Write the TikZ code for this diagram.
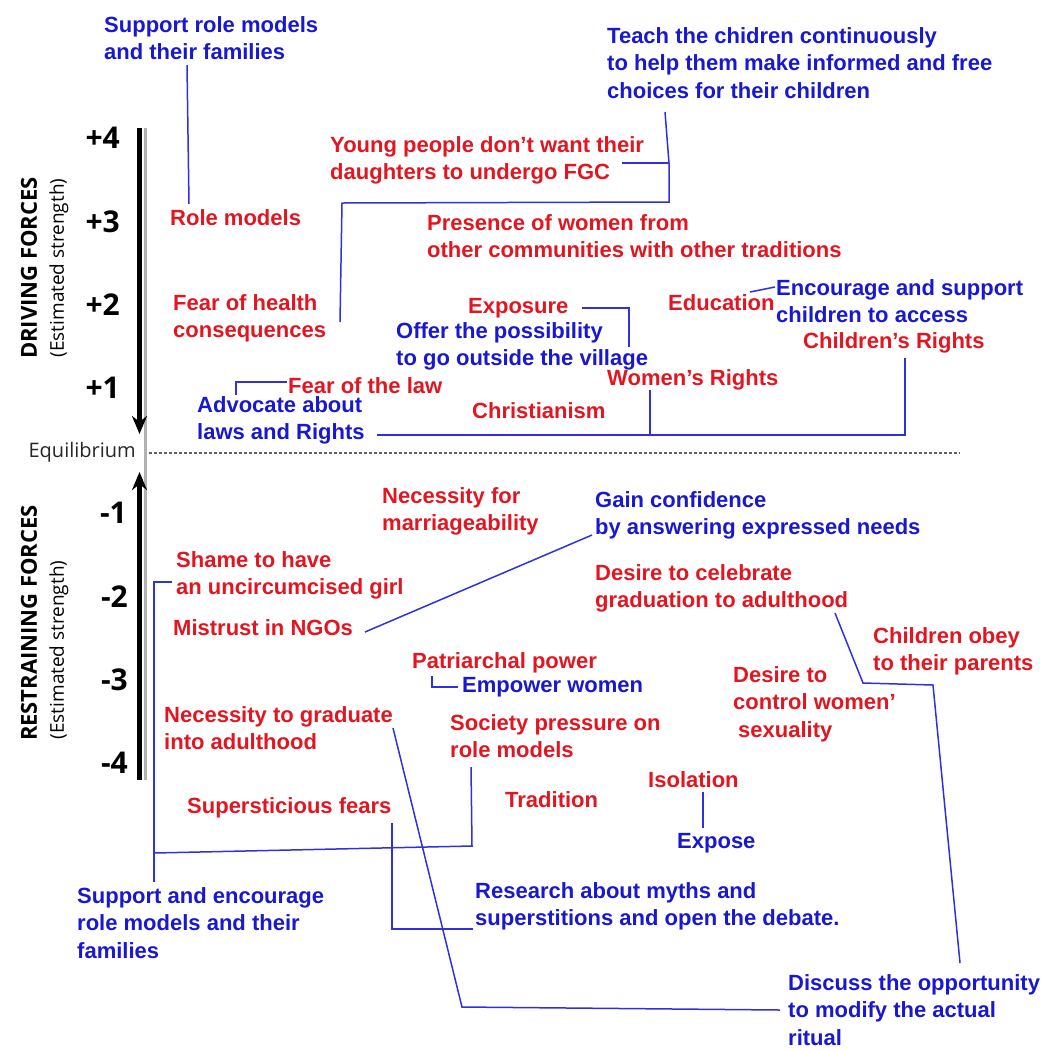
\documentclass[tikz,border=0pt]{standalone}
\usepackage{fontspec}
\setmainfont{Liberation Sans}
\newfontfamily\axisfont{Open Sans}
\usepackage{tikz}
\usetikzlibrary{calc}
\usetikzlibrary{arrows.meta}
\definecolor{forcered}{RGB}{226,22,32}
\definecolor{actionblue}{RGB}{24,24,208}
\definecolor{linkblue}{RGB}{48,48,220}
\def\txtsize{\fontsize{22}{27.5}\selectfont}
% several lines, baseline on the first one
\newcommand{\lines}[1]{\begin{tabular}[t]{@{}l@{}}#1\end{tabular}}

\tikzset{
    force/.style={text=forcered, font=\bfseries\txtsize,
        anchor=base west, inner sep=0pt},
    action/.style={force, text=actionblue},
    link/.style={linkblue, line width=1.5pt},
    scalenum/.style={font=\axisfont\bfseries\fontsize{30}{32}\selectfont,
        anchor=east, inner sep=0pt},
    axislabel/.style={font=\axisfont\bfseries\fontsize{22}{24}\selectfont,
        rotate=90, inner sep=0pt},
    axisnote/.style={font=\axisfont\fontsize{19}{21}\selectfont,
        rotate=90, inner sep=0pt},
    forcearrow/.style={line width=4.5pt, -{Stealth[length=18pt,width=15pt]}}
}

\begin{document}
\begin{tikzpicture}[x=1pt, y=-1pt]
    \useasboundingbox (0,0) rectangle (1051,1050);

    % scale on the left
    \draw[gray!60, line width=3pt] (145,128) -- (145,780);
    \draw[forcearrow] (139.5,128) -- (139.5,434);
    \draw[forcearrow] (139.5,780) -- (139.5,472);
    \draw[gray!75!black, line width=1.2pt, dash pattern=on 3pt off 2pt]
        (149,453) -- (960,453);

    \node[scalenum] (p4) at (120,138) {+4};
    \node[scalenum] (p3) at (120,222) {+3};
    \node[scalenum] (p2) at (120,305) {+2};
    \node[scalenum] (p1) at (120,388) {+1};
    \node[scalenum] (m1) at (127,513) {-1};
    \node[scalenum] (m2) at (128,597) {-2};
    \node[scalenum] (m3) at (128,680) {-3};
    \node[scalenum] (m4) at (128,763) {-4};
    \node[font=\axisfont\fontsize{20}{22}\selectfont, anchor=east, inner sep=0pt,
        text=black!85] (equil) at (136,452) {Equilibrium};

    \node[axislabel] (drive) at (29,268) {DRIVING FORCES};
    \node[axisnote] (drivenote) at (59,268) {(Estimated strength)};
    \node[axislabel] (restrain) at (29,623) {RESTRAINING FORCES};
    \node[axisnote] (restrainnote) at (59,650) {(Estimated strength)};

    % driving forces
    \node[force] (rolem) at (170,225) {Role models};
    \node[force] (young) at (330,152) {\lines{Young people don’t want their\\daughters to undergo FGC}};
    \node[force] (presence) at (427,230) {\lines{Presence of women from\\other communities with other traditions}};
    \node[force] (health) at (173,310) {\lines{Fear of health\\consequences}};
    \node[force] (exposure) at (468,313) {Exposure};
    \node[force] (educ) at (668,310) {Education};
    \node[force] (chrights) at (803,348) {Children’s Rights};
    \node[force] (wrights) at (607,385) {Women’s Rights};
    \node[force] (law) at (288,393) {Fear of the law};
    \node[force] (christ) at (472,418) {Christianism};

    % restraining forces
    \node[force] (marriage) at (382,503) {\lines{Necessity for\\marriageability}};
    \node[force] (shame) at (176,567) {\lines{Shame to have\\an uncircumcised girl}};
    \node[force] (mistrust) at (173,635) {Mistrust in NGOs};
    \node[force] (celebrate) at (595,580) {\lines{Desire to celebrate\\graduation to adulthood}};
    \node[force] (obey) at (873,643) {\lines{Children obey\\to their parents}};
    \node[force] (patri) at (412,668) {Patriarchal power};
    \node[force] (control) at (733,682) {\lines{Desire to\\control women’\\\hspace{5pt}sexuality}};
    \node[force] (gradu) at (164,722) {\lines{Necessity to graduate\\into adulthood}};
    \node[force] (society) at (450,730) {\lines{Society pressure on\\role models}};
    \node[force] (isol) at (648,787) {Isolation};
    \node[force] (tradition) at (505,807) {Tradition};
    \node[force] (superst) at (187,813) {Supersticious fears};

    % actions
    \node[action] (suprm) at (104,32) {\lines{Support role models\\and their families}};
    \node[action] (teach) at (607,43) {\lines{Teach the chidren continuously\\to help them make informed and free\\choices for their children}};
    \node[action] (encour) at (776,295) {\lines{Encourage and support\\children to access}};
    \node[action] (offer) at (396,338) {\lines{Offer the possibility\\to go outside the village}};
    \node[action] (advoc) at (197,412) {\lines{Advocate about\\laws and Rights}};
    \node[action] (gain) at (595,507) {\lines{Gain confidence\\by answering expressed needs}};
    \node[action] (empow) at (462,692) {Empower women};
    \node[action] (expose) at (677,848) {Expose};
    \node[action] (research) at (475,898) {\lines{Research about myths and\\superstitions and open the debate.}};
    \node[action] (supenc) at (77,903) {\lines{Support and encourage\\role models and their\\families}};
    \node[action] (discuss) at (788,990) {\lines{Discuss the opportunity\\to modify the actual\\ritual}};

    % links
    \draw[link] ($(suprm.base west)+(83,33)$) -- ($(rolem.base west)+(19,-21)$);
    \draw[link] ($(teach.base west)+(58,69)$) -- (669,163) coordinate (tj)
        -- (669,202) -- (342,203) -- ($(health.base west)+(167,12)$);
    \draw[link] ($(young.base west)+(292,11)$) -- (tj);
    \draw[link] ($(exposure.base west)+(114,-5)$) -| ($(offer.base west)+(233,9)$);
    \draw[link] ($(law.base west)+(-1,-11)$) -| ($(advoc.base west)+(39,-17)$);
    \draw[link] ($(advoc.base west)+(180,23)$) -| ($(chrights.base west)+(102,10)$);
    \draw[link] ($(wrights.base west)+(43,5)$) -- ++(0,45);
    \draw[link] ($(educ.base west)+(82,-18)$) -- ($(encour.base west)+(-1,-8)$);

    \draw[link] ($(supenc.base west)+(77,-21)$) |- ($(shame.base west)+(-4,15)$);
    \draw[link] ($(supenc.base west)+(77,-50)$) -- (472,846)
        -- ($(society.base west)+(21,37)$);
    \draw[link] ($(mistrust.base west)+(192,-3)$) -- ($(gain.base west)+(-3,28)$);
    \draw[link] ($(patri.base west)+(20,8)$) |- ($(empow.base west)+(-4,-5)$);
    \draw[link] ($(gradu.base west)+(229,6)$) -- (462,1007)
        -- ($(discuss.base west)+(-8,20)$);
    \draw[link] ($(celebrate.base west)+(240,33)$) -- (863,683) -- (933,685)
        -- ($(discuss.base west)+(172,-27)$);
    \draw[link] ($(superst.base west)+(205,10)$) |- ($(research.base west)+(-2,31)$);
    \draw[link] ($(isol.base west)+(55,5)$) -- ($(expose.base west)+(26,-20)$);
\end{tikzpicture}
\end{document}
